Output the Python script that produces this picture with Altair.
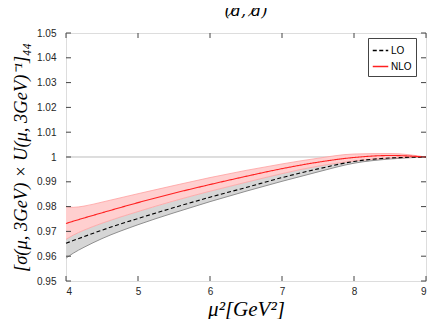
import altair as alt
import pandas as pd

mu2 = [4, 4.1, 4.25, 4.5, 5, 5.5, 6, 6.5, 7, 7.5, 8, 8.5, 9]
nlo = [0.9732, 0.9741, 0.9754, 0.9775, 0.9816, 0.9854, 0.9889, 0.9922, 0.9953, 0.9979, 0.9998, 1.0006, 1.0000]
nlo_hi = [0.9800, 0.9797, 0.9802, 0.9818, 0.9852, 0.9885, 0.9917, 0.9946, 0.9972, 0.9995, 1.0012, 1.0014, 1.0000]
nlo_lo = [0.9668, 0.9685, 0.9705, 0.9733, 0.9780, 0.9823, 0.9862, 0.9898, 0.9933, 0.9963, 0.9984, 0.9996, 1.0000]
lo = [0.9652, 0.9663, 0.9679, 0.9705, 0.9752, 0.9796, 0.9838, 0.9877, 0.9917, 0.9952, 0.9982, 0.9996, 1.0000]
lo_lo = [0.9592, 0.9612, 0.9636, 0.9671, 0.9727, 0.9775, 0.9820, 0.9862, 0.9902, 0.9940, 0.9975, 0.9992, 1.0000]

x_ticks = [4, 5, 6, 7, 8, 9]
y_ticks = [0.95, 0.96, 0.97, 0.98, 0.99, 1.0, 1.01, 1.02, 1.03, 1.04, 1.05]
series_names = ["LO", "NLO"]

df = pd.DataFrame(dict(mu2=mu2, nlo=nlo, nlo_hi=nlo_hi, nlo_lo=nlo_lo, lo=lo, lo_lo=lo_lo))
lines_df = pd.concat([
    pd.DataFrame(dict(mu2=mu2, val=lo, series="LO")),
    pd.DataFrame(dict(mu2=mu2, val=nlo, series="NLO")),
])
xt_df = pd.DataFrame(dict(t=x_ticks))
yt_df = pd.DataFrame(dict(t=y_ticks))

PW, PH = 360, 248        # plot area
PAD = {"left": 58, "top": 25, "right": 2, "bottom": 38}
xs = alt.Scale(domain=[4, 9], nice=False)
ys = alt.Scale(domain=[0.95, 1.05], nice=False)
FRAME = "#555555"
TICK = "#444444"
LABEL_FONT = "Liberation Sans"

main_x = alt.Axis(orient="bottom", values=x_ticks, ticks=False, domain=False, grid=False,
                  labelPadding=5, labelFont=LABEL_FONT, labelFontSize=10, labelColor="#262626",
                  format="d",
                  title="μ²[GeV²]", titleFont="Liberation Serif", titleFontStyle="italic",
                  titleFontWeight="normal", titleFontSize=21, titleColor="black", titlePadding=2)
main_y = alt.Axis(orient="left", values=y_ticks, ticks=False, domain=False, grid=False,
                  labelPadding=10, labelFont=LABEL_FONT, labelFontSize=10, labelColor="#262626",
                  labelExpr="datum.value == 1 ? '1' : format(datum.value, '.2f')",
                  title="[σ(μ, 3GeV) × U(μ, 3GeV)⁻¹]₄₄", titleFont="Liberation Serif",
                  titleFontStyle="italic", titleFontWeight="normal", titleFontSize=18.5,
                  titleColor="black", titlePadding=6)


def X(field, axis=None):
    return alt.X(field, scale=xs, axis=axis)


def Y(field, axis=None):
    return alt.Y(field, scale=ys, axis=axis)


base = alt.Chart(df)

grid1 = alt.Chart(df).mark_rule(color="#dddddd", strokeWidth=1).encode(
    y=alt.datum(1.0, scale=ys, axis=None))

gray_band = base.mark_area(color="#d6d6d6", opacity=1, interpolate="monotone").encode(
    x=X("mu2:Q", main_x), y=Y("lo_lo:Q", main_y), y2="nlo_lo:Q")
gray_edge = base.mark_line(color="#8f8f8f", strokeWidth=1, interpolate="monotone").encode(
    x=X("mu2:Q"), y=Y("lo_lo:Q"))

pink_band = base.mark_area(color="#ffcfcf", opacity=1, interpolate="monotone").encode(
    x=X("mu2:Q"), y=Y("nlo_lo:Q"), y2="nlo_hi:Q")
pink_hi = base.mark_line(color="#ffa0a0", strokeWidth=0.8, interpolate="monotone").encode(
    x=X("mu2:Q"), y=Y("nlo_hi:Q"))
pink_lo = base.mark_line(color="#ffa0a0", strokeWidth=0.8, interpolate="monotone").encode(
    x=X("mu2:Q"), y=Y("nlo_lo:Q"))

lines = alt.Chart(lines_df).mark_line(strokeWidth=1.1, interpolate="monotone").encode(
    x=X("mu2:Q"),
    y=Y("val:Q"),
    color=alt.Color("series:N", scale=alt.Scale(domain=series_names, range=["#000000", "#ff2020"]),
                    legend=alt.Legend(title=None, orient="none", legendX=PW - 58, legendY=5,
                                      fillColor="white", strokeColor="#444444", padding=4,
                                      labelFont=LABEL_FONT, labelFontSize=10, labelColor="black",
                                      symbolType="stroke", symbolSize=240, symbolStrokeWidth=1.4,
                                      rowPadding=2, labelOffset=2)),
    strokeDash=alt.StrokeDash("series:N", scale=alt.Scale(domain=series_names, range=[[4, 2.5], [1, 0]]),
                              legend=None),
)

# inward frame ticks (positions come from the scales)
tk_bottom = alt.Chart(xt_df).mark_rule(color=TICK, strokeWidth=1).encode(
    x=X("t:Q"), y=alt.value(PH), y2=alt.value(PH - 5))
tk_top = alt.Chart(xt_df).mark_rule(color=TICK, strokeWidth=1).encode(
    x=X("t:Q"), y=alt.value(0), y2=alt.value(5))
tk_left = alt.Chart(yt_df).mark_rule(color=TICK, strokeWidth=1).encode(
    y=Y("t:Q"), x=alt.value(0), x2=alt.value(5))
tk_right = alt.Chart(yt_df).mark_rule(color=TICK, strokeWidth=1).encode(
    y=Y("t:Q"), x=alt.value(PW), x2=alt.value(PW - 5))

chart = alt.layer(
    grid1, gray_band, gray_edge, pink_band, pink_hi, pink_lo, lines,
    tk_bottom, tk_top, tk_left, tk_right,
).resolve_axis(x="independent", y="independent").properties(
    width=PW, height=PH, padding=PAD,
    autosize=alt.AutoSizeParams(type="none"),
    title=alt.TitleParams("(d̸, d̸)", font="DejaVu Serif", fontStyle="italic", fontWeight="normal",
                          fontSize=16, color="black", offset=9),
).configure_view(stroke=FRAME, strokeWidth=1).configure(background="white")

chart.save("out.html", embed_options={"renderer": "svg", "actions": False})
